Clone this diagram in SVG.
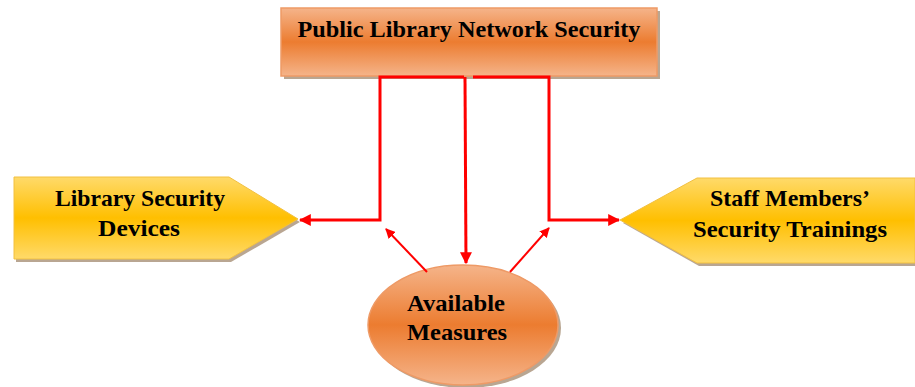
<svg xmlns="http://www.w3.org/2000/svg" width="915" height="387" viewBox="0 0 915 387">
<defs>
<linearGradient id="gOr" x1="0" y1="0" x2="0" y2="1">
<stop offset="0" stop-color="#f5b48a"/><stop offset="0.5" stop-color="#ec7c30"/><stop offset="1" stop-color="#f5b48a"/>
</linearGradient>
<linearGradient id="gYe" x1="0" y1="0" x2="0" y2="1">
<stop offset="0" stop-color="#ffda6a"/><stop offset="0.5" stop-color="#ffbf00"/><stop offset="1" stop-color="#ffda6a"/>
</linearGradient>
<marker id="ah" viewBox="0 0 10 10" refX="9" refY="5" markerWidth="4" markerHeight="4" orient="auto" markerUnits="strokeWidth">
<path d="M0,0 L10,5 L0,10 z" fill="#ff0000"/>
</marker>
<marker id="ahs" viewBox="0 0 10 10" refX="9" refY="5" markerWidth="5" markerHeight="5" orient="auto" markerUnits="strokeWidth">
<path d="M0,0 L10,5 L0,10 z" fill="#ff0000"/>
</marker>
</defs>
<style>
.t{font-family:"Liberation Serif","Times New Roman",serif;font-weight:bold;fill:#000;text-anchor:middle;font-size:23.5px}
.shadow{fill:#8a6a4a;opacity:0.6}
.or{fill:url(#gOr);stroke:#ee9a66;stroke-width:1.5}
.ye{fill:url(#gYe);stroke:#f2c040;stroke-width:1}
.c{fill:none;stroke:#ff0000;stroke-width:3;stroke-linejoin:miter}
.d{fill:none;stroke:#ff0000;stroke-width:2}
</style>
<g id="top">
<rect class="shadow" x="284" y="11" width="376" height="68"/>
<rect class="or" x="281" y="8" width="376" height="68"/>
<text class="t" x="469" y="37" textLength="343" lengthAdjust="spacingAndGlyphs">Public Library Network Security</text>
</g>
<g id="left">
<polygon class="shadow" points="16,180 231,180 300,222 231,262 16,262"/>
<polygon class="ye" points="14,177 229,177 298,219 229,259 14,259"/>
<text class="t" x="140" y="206" textLength="170" lengthAdjust="spacingAndGlyphs">Library Security</text>
<text class="t" x="139" y="236" textLength="82" lengthAdjust="spacingAndGlyphs">Devices</text>
</g>
<g id="right">
<polygon class="shadow" points="623,223 699,181 917,181 917,266 699,266"/>
<polygon class="ye" points="620,220 697,178 915,178 915,263 697,263"/>
<text class="t" x="790" y="206" textLength="160" lengthAdjust="spacingAndGlyphs">Staff Members’</text>
<text class="t" x="790" y="237" textLength="194" lengthAdjust="spacingAndGlyphs">Security Trainings</text>
</g>
<g id="measures">
<ellipse class="shadow" cx="466" cy="328" rx="95" ry="60"/>
<ellipse class="or" cx="463" cy="325" rx="95" ry="60"/>
<text class="t" x="456" y="311" textLength="98" lengthAdjust="spacingAndGlyphs">Available</text>
<text class="t" x="457" y="340" textLength="100" lengthAdjust="spacingAndGlyphs">Measures</text>
</g>
<g id="connectors">
<polyline class="c" points="464,77 380,77 380,220 300,220" marker-end="url(#ah)"/>
<polyline class="c" points="473,77 549,77 549,220 619,220" marker-end="url(#ah)"/>
<line class="c" x1="465" y1="77" x2="466" y2="263" marker-end="url(#ah)"/>
<line class="d" x1="427" y1="272" x2="386" y2="229" marker-end="url(#ahs)"/>
<line class="d" x1="510" y1="272" x2="549" y2="228" marker-end="url(#ahs)"/>
</g>
</svg>
